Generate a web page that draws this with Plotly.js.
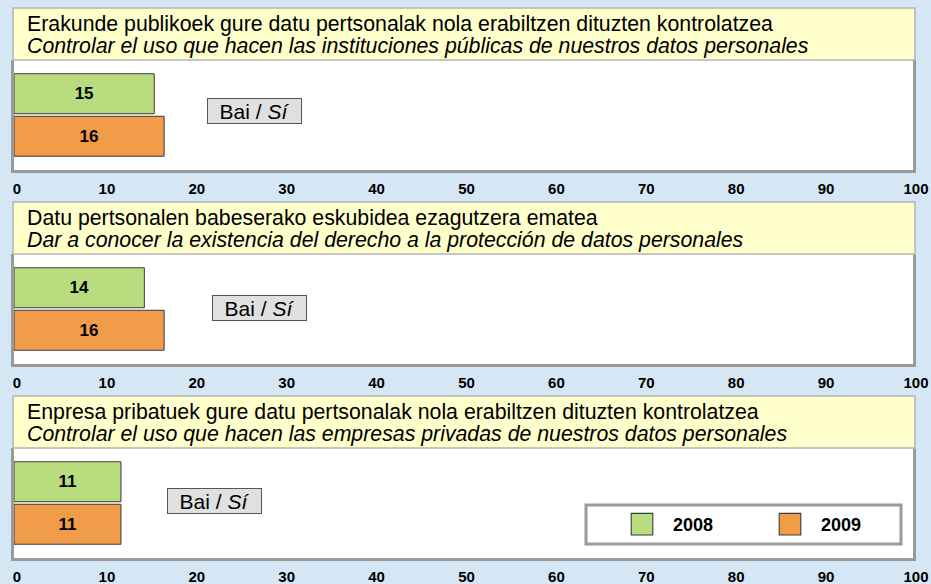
<!DOCTYPE html>
<html>
<head>
<meta charset="utf-8">
<script src="https://cdn.plot.ly/plotly-3.0.1.min.js"></script>
<style>
  html, body { margin: 0; padding: 0; background: #d5e6f4; }
  #chart { width: 931px; height: 584px; }
</style>
</head>
<body>
<div id="chart"></div>
<script>
// ---- data ----
const seriesNames = ['2008', '2009'];
const category = 'Bai / Sí';
const titlesEu = [
  'Erakunde publikoek gure datu pertsonalak nola erabiltzen dituzten kontrolatzea',
  'Datu pertsonalen babeserako eskubidea ezagutzera ematea',
  'Enpresa pribatuek gure datu pertsonalak nola erabiltzen dituzten kontrolatzea'
];
const titlesEs = [
  'Controlar el uso que hacen las instituciones públicas de nuestros datos personales',
  'Dar a conocer la existencia del derecho a la protección de datos personales',
  'Controlar el uso que hacen las empresas privadas de nuestros datos personales'
];
const values2008 = [15.6, 14.5, 11.9];
const values2009 = [16.7, 16.7, 11.9];
const labels2008 = ['15', '14', '11'];
const labels2009 = ['16', '16', '11'];
const xTickVals = [0, 10, 20, 30, 40, 50, 60, 70, 80, 90, 100];

// ---- styling ----
const W = 931, H = 584;
const FONT = '"Liberation Sans", Arial, sans-serif';
const colors = ['#b8dc7e', '#f09c48'];
const panelTop = [60, 254, 448];   // plot area top (px)
const panelBot = [170, 364, 558];  // plot area bottom (px)
const titleTop = [8, 202, 396];
const px = v => v / W;
const py = v => 1 - v / H;

const traces = [];
const layout = {
  width: W, height: H,
  margin: {l: 0, r: 0, t: 0, b: 0},
  paper_bgcolor: '#d5e6f4',
  plot_bgcolor: '#ffffff',
  barmode: 'group',
  bargap: 0.227,
  bargroupgap: 0.06,
  showlegend: true,
  legend: {
    orientation: 'h',
    x: px(611), y: py(506), xanchor: 'left', yanchor: 'top',
    bgcolor: 'rgba(0,0,0,0)', borderwidth: 0,
    itemwidth: 52, entrywidth: 81,
    font: {family: FONT, size: 18, color: '#000', weight: 'bold'},
    itemclick: false, itemdoubleclick: false
  },
  shapes: [],
  annotations: [],
  font: {family: FONT}
};

const vals = [values2008, values2009];
const labs = [labels2008, labels2009];

for (let p = 0; p < 3; p++) {
  const sfx = p === 0 ? '' : String(p + 1);
  for (let s = 0; s < 2; s++) {
    traces.push({
      type: 'bar', orientation: 'h',
      name: seriesNames[s], legendgroup: seriesNames[s], showlegend: p === 0,
      x: [vals[s][p]], y: [0],
      xaxis: 'x' + sfx, yaxis: 'y' + sfx,
      text: [labs[s][p]], textposition: 'inside', insidetextanchor: 'middle',
      textangle: 0, constraintext: 'none',
      textfont: {family: FONT, size: 17, color: '#000', weight: 'bold'},
      marker: {color: colors[s], line: {color: '#3a3a3a', width: 1}},
      hoverinfo: 'skip'
    });
  }
  layout['xaxis' + sfx] = {
    domain: [px(14), px(913)], anchor: 'y' + sfx,
    range: [0, 100], tickvals: xTickVals, ticks: '',
    showgrid: false, zeroline: false,
    showline: true, linewidth: 3, linecolor: '#9a9a9a',
    tickfont: {family: FONT, size: 15, color: '#000', weight: 'bold'},
    ticklabelstandoff: 3, ticklabelshift: 3,
    fixedrange: true
  };
  layout['yaxis' + sfx] = {
    domain: [py(panelBot[p]), py(panelTop[p])], anchor: 'x' + sfx,
    range: [0.5, -0.5], showticklabels: false, ticks: '',
    showgrid: false, zeroline: false,
    showline: true, mirror: true, linewidth: 3, linecolor: '#9a9a9a',
    fixedrange: true
  };
  // title box
  layout.shapes.push({
    type: 'rect', xref: 'paper', yref: 'paper', layer: 'above',
    x0: px(13), x1: px(915), y0: py(titleTop[p] + 52), y1: py(titleTop[p]),
    fillcolor: '#ffffcc', line: {color: '#b4b4b4', width: 1.5}
  });
  layout.annotations.push({
    xref: 'paper', yref: 'paper', x: px(25), y: py(titleTop[p] + 16),
    xanchor: 'left', yanchor: 'middle', showarrow: false,
    text: titlesEu[p], font: {family: FONT, size: 21.3, color: '#000'}
  });
  layout.annotations.push({
    xref: 'paper', yref: 'paper', x: px(25), y: py(titleTop[p] + 38),
    xanchor: 'left', yanchor: 'middle', showarrow: false,
    text: '<i>' + titlesEs[p] + '</i>', font: {family: FONT, size: 21.3, color: '#000'}
  });
}

// "Bai / Sí" category boxes
const baiCenters = [[254.5, 111], [259, 307.5], [214, 500.5]];
const catParts = category.split(' / ');
baiCenters.forEach(c => {
  layout.annotations.push({
    xref: 'paper', yref: 'paper', x: px(c[0]), y: py(c[1]),
    xanchor: 'center', yanchor: 'middle', showarrow: false,
    text: catParts[0] + ' / <i>' + catParts[1] + '</i>',
    width: 91, height: 22, borderpad: 1, borderwidth: 1,
    bordercolor: '#555555', bgcolor: '#e0e0e0',
    font: {family: FONT, size: 21, color: '#000'}
  });
});

// legend frame
layout.shapes.push({
  type: 'rect', xref: 'paper', yref: 'paper', layer: 'above',
  x0: px(586), x1: px(901), y0: py(544), y1: py(505),
  fillcolor: '#ffffff', line: {color: '#9a9a9a', width: 3}
});

Plotly.newPlot('chart', traces, layout, {displayModeBar: false, staticPlot: true}).then(() => {
  document.querySelectorAll('.legend .legendpoints path').forEach(el => {
    const t = el.getAttribute('transform') || '';
    el.setAttribute('transform', t + ' scale(1.8)');
    el.style.strokeWidth = '0.6px';
  });
});
</script>
</body>
</html>
